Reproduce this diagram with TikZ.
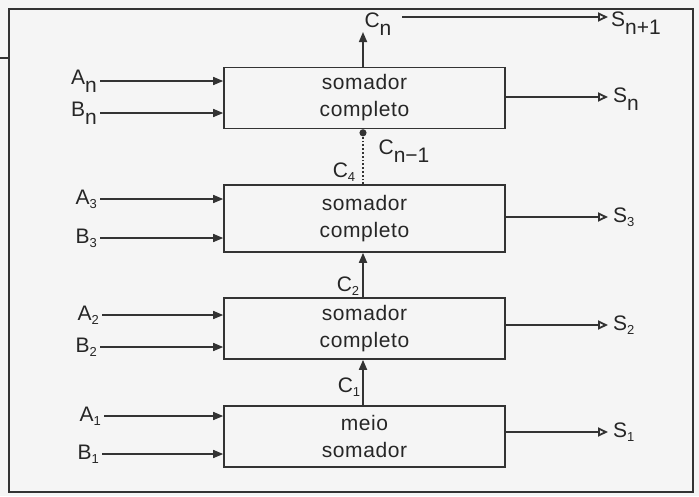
\documentclass[tikz,border=0pt]{standalone}
\usepackage{fontspec}
\setmainfont{Liberation Sans}
\usetikzlibrary{arrows.meta,calc}
\newcommand\sbn[1]{\raisebox{-8pt}{#1}}
\newcommand\sbd[1]{\raisebox{-4pt}{\fontsize{13}{13}\selectfont #1}}
\begin{document}
\begin{tikzpicture}[x=1pt,y=-1pt,
  ink/.style={draw=black!80},
  adder/.style={ink, line width=1.6pt, minimum width=281pt, inner sep=0pt, align=center,
     font=\fontsize{21}{27}\selectfont\addfontfeatures{LetterSpace=3}, text=black!85},
  lab/.style={inner sep=1pt, font=\fontsize{21}{21}\selectfont, text=black!85},
  inl/.style={lab, anchor=east, inner xsep=3pt},
  inarr/.style={ink, line width=1.5pt, -{Triangle[length=10pt,width=8pt]}},
  outarr/.style={ink, line width=1.5pt, -{Triangle[open,length=10pt,width=9pt,line width=1.8pt]}},
  carr/.style={ink, line width=1.7pt, -{Triangle[length=10pt,width=8pt]}},
  dotarr/.style={ink, line width=1.8pt, dotted, -{Circle[length=7pt,width=7pt]}}]
\useasboundingbox (0,0) rectangle (699,496);
\fill[black!4] (0,0) rectangle (699,496);
% frame
\draw[ink, line width=2.2pt] (9,9) rectangle (693,492);
\draw[ink, line width=1.6pt] (0,58) -- (9,58);
% adders
\node[adder, minimum height=61pt] (bn) at (364.5,98) {somador\\completo};
\node[adder, minimum height=67pt] (b3) at (364.5,218.5) {somador\\completo};
\node[adder, minimum height=61pt] (b2) at (364.5,328.5) {somador\\completo};
\node[adder, minimum height=61pt] (b1) at (364.5,436.5) {meio\\somador};
% inputs
\node[inl] (an) at (100,81) {A\sbn{n}};
\node[inl] (bnl) at (100,113) {B\sbn{n}};
\node[inl] (a3) at (100,199) {A\sbd{3}};
\node[inl] (b3l) at (100,238) {B\sbd{3}};
\node[inl] (a2) at (102,315) {A\sbd{2}};
\node[inl] (b2l) at (100,347) {B\sbd{2}};
\node[inl] (a1) at (104,416) {A\sbd{1}};
\node[inl] (b1l) at (102,454) {B\sbd{1}};
\draw[inarr] (an.east) -- (an.east -| bn.west);
\draw[inarr] (bnl.east) -- (bnl.east -| bn.west);
\draw[inarr] (a3.east) -- (a3.east -| b3.west);
\draw[inarr] (b3l.east) -- (b3l.east -| b3.west);
\draw[inarr] (a2.east) -- (a2.east -| b2.west);
\draw[inarr] (b2l.east) -- (b2l.east -| b2.west);
\draw[inarr] (a1.east) -- (a1.east -| b1.west);
\draw[inarr] (b1l.east) -- (b1l.east -| b1.west);
% outputs
\node[lab, anchor=west] (sn) at (612,99) {S\sbn{n}};
\node[lab, anchor=west] (s3) at (612,217) {S\sbd{3}};
\node[lab, anchor=west] (s2) at (612,325) {S\sbd{2}};
\node[lab, anchor=west] (s1) at (612,432) {S\sbd{1}};
\node[lab, anchor=west] (snp) at (610,23) {S\sbn{n+1}};
\coordinate (snin) at (608,97);
\draw[outarr] (bn.east |- snin) -- (snin);
\draw[outarr] (b3.east |- s3.west) -- ([xshift=-4pt]s3.west);
\draw[outarr] (b2.east |- s2.west) -- ([xshift=-4pt]s2.west);
\draw[outarr] (b1.east |- s1.west) -- ([xshift=-4pt]s1.west);
% carries
\node[lab] (cn) at (378,24) {C\sbn{n}};
\coordinate (cntip) at (363,32);
\coordinate (cnout) at (402,17);
\coordinate (snpin) at (608,17);
\draw[carr] (bn.north -| cntip) -- (cntip);
\draw[outarr] (cnout) -- (snpin);
\node[lab] (cnm1) at (404,151) {C\sbn{n−1}};
\node[lab] (c4) at (344,172) {C\sbd{4}};
\node[lab] (c2) at (348,286) {C\sbd{2}};
\node[lab] (c1) at (349,387) {C\sbd{1}};
\draw[dotarr] (b3.north -| cntip) -- (bn.south -| cntip);
\draw[carr] (b2.north -| cntip) -- (b3.south -| cntip);
\draw[carr] (b1.north -| cntip) -- (b2.south -| cntip);
\end{tikzpicture}
\end{document}
